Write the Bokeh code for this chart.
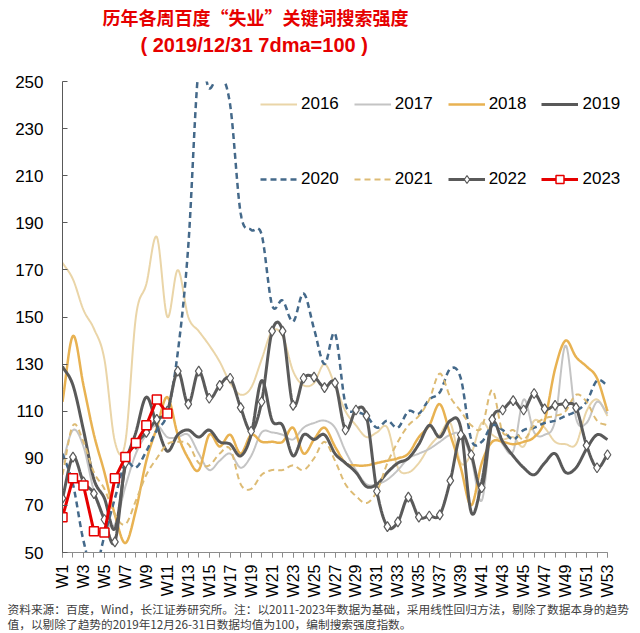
import numpy as np
from bokeh.plotting import figure
from bokeh.models import Range1d, FixedTicker, Legend, LegendItem, Title
from bokeh.embed import file_html
from bokeh.resources import INLINE

# ---------------- data ----------------
weeks = list(range(1, 54))
week_labels = ["W%d" % w for w in weeks]
y_ticks = [50, 70, 90, 110, 130, 150, 170, 190, 210, 230, 250]
years = ["2016", "2017", "2018", "2019", "2020", "2021", "2022", "2023"]

y2016 = [173, 166, 153, 145, 132, 97, 97, 150, 164, 184, 150, 170, 150, 144, 138, 131, 122, 117, 120, 132,
         144, 142, 127, 121, 122, 130, 121, 110, 104, 99, 101, 103, 86, 84, 88, 95, 100, 105, 88, 92,
         105, 100, 98, 99, 95, 106, 103, 97, 96, 96, 110, 115, 108]
y2017 = [88, 102, 95, 76, 64, 62, 78, 92, 100, 104, 99, 99, 100, 92, 85, 89, 92, 86, 91, 101,
         101, 100, 98, 103, 105, 106, 103, 93, 85, 79, 79, 81, 85, 90, 92, 94, 97, 100, 100, 90,
         72, 104, 96, 93, 115, 101, 100, 106, 138, 107, 105, 114, 109]
y2018 = [114, 142, 121, 100, 84, 66, 54, 68, 89, 103, 116, 100, 90, 85, 100, 95, 100, 92, 100, 97,
         97, 97, 103, 92, 98, 103, 95, 88, 87, 87, 88, 89, 90, 92, 99, 104, 113, 100, 86, 70,
         88, 97, 97, 96, 97, 99, 106, 128, 140, 133, 129, 124, 110]
y2019 = [129, 121, 102, 81, 73, 60, 87, 101, 116, 104, 93, 100, 102, 99, 102, 97, 96, 91, 100, 123,
         106, 104, 91, 100, 98, 100, 92, 88, 84, 78, 79, 84, 88, 90, 96, 104, 99, 106, 103, 67,
         80, 105, 97, 91, 86, 83, 88, 92, 84, 86, 94, 100, 98]
y2020 = [92, 79, 55, 42, 57, 73, 88, 86, 93, 102, 109, 135, 180, 256, 247, 253, 240, 194, 187, 185,
         155, 157, 148, 160, 145, 130, 143, 113, 110, 108, 103, 106, 103, 110, 109, 115, 118, 128, 124, 98,
         97, 104, 102, 98, 102, 103, 105, 106, 108, 110, 114, 123, 121]
y2021 = [83, 104, 97, 84, 77, 66, 62, 72, 83, 90, 96, 97, 96, 88, 87, 92, 94, 79, 77, 83,
         85, 85, 87, 85, 90, 97, 89, 79, 74, 71, 76, 88, 97, 104, 108, 115, 126, 116, 110, 104,
         103, 119, 101, 102, 98, 104, 107, 108, 110, 117, 114, 106, 104]
y2022 = [73, 90.5, 80, 75, 64, 54.5, 88, 96, 101, 106.5, 110, 127, 113, 127, 115.5, 121, 124, 111.5, 101.5, 114,
         144, 144, 112.5, 124, 124.5, 120, 122, 102, 110.5, 108, 76, 61, 63, 73.5, 65, 65.5, 66, 80.5, 100, 91.5,
         77.5, 106.5, 110.5, 114.5, 110.5, 117.5, 111, 112.5, 113, 111.5, 95.5, 86, 91.5]
y2023 = [65, 81.5, 78.5, 59, 58.5, 81.5, 90.5, 96.5, 104, 115, 109]

title_1 = "历年各周百度“失业”关键词搜索强度"
title_2 = "( 2019/12/31 7dma=100 )"
note_1 = "资料来源：百度，Wind，长江证券研究所。注：以2011-2023年数据为基础，采用线性回归方法，剔除了数据本身的趋势"
note_2 = "值，以剔除了趋势的2019年12月26-31日数据均值为100，编制搜索强度指数。"


def smooth(xs, ys, n=12):
    """Excel-like smoothed line (cubic Bezier through the data points)."""
    xs = np.asarray(xs, float)
    ys = np.asarray(ys, float)
    px = np.concatenate([[2 * xs[0] - xs[1]], xs, [2 * xs[-1] - xs[-2]]])
    py = np.concatenate([[2 * ys[0] - ys[1]], ys, [2 * ys[-1] - ys[-2]]])
    t = np.linspace(0, 1, n, endpoint=False)
    ox, oy = [], []
    for i in range(len(xs) - 1):
        for P, O in ((px, ox), (py, oy)):
            p0, p1, p2, p3 = P[i], P[i + 1], P[i + 2], P[i + 3]
            c1 = p1 + (p2 - p0) / 6.0
            c2 = p2 - (p3 - p1) / 6.0
            O.extend((1 - t) ** 3 * p1 + 3 * (1 - t) ** 2 * t * c1 + 3 * (1 - t) * t ** 2 * c2 + t ** 3 * p2)
    ox.append(xs[-1])
    oy.append(ys[-1])
    return ox, oy


# ---------------- figure ----------------
# frame: x 62..620 (W53 at 607; extra room on the right for the legend), y 81..552
x_end = 1 + 52 * 558 / 545.0
p = figure(width=640, height=633, output_backend="svg", toolbar_location=None,
           x_range=Range1d(1, x_end), y_range=Range1d(50, 250),
           min_border_left=62, min_border_right=20, min_border_top=81, min_border_bottom=81)
p.outline_line_color = None
p.xgrid.visible = False
p.ygrid.visible = False

xa = p.xaxis[0]
xa.bounds = (1, 53)
xa.ticker = FixedTicker(ticks=weeks[::2], minor_ticks=weeks)
xa.major_label_overrides = {w: lab for w, lab in zip(weeks, week_labels)}
xa.major_label_orientation = np.pi / 2
xa.major_tick_in = 0
xa.major_tick_out = 5
xa.minor_tick_in = 0
xa.minor_tick_out = 5
xa.axis_line_color = "#8c8c8c"
xa.major_tick_line_color = "#8c8c8c"
xa.minor_tick_line_color = "#8c8c8c"
xa.major_label_text_font = "Liberation Sans"
xa.major_label_text_font_size = "16px"
xa.major_label_text_color = "#000000"
xa.major_label_standoff = 7

ya = p.yaxis[0]
ya.ticker = FixedTicker(ticks=y_ticks)
ya.major_tick_in = 5
ya.major_tick_out = 0
ya.minor_tick_line_color = None
ya.axis_line_color = "#595959"
ya.major_tick_line_color = "#595959"
ya.major_label_text_font = "Liberation Sans"
ya.major_label_text_font_size = "17px"
ya.major_label_text_color = "#000000"
ya.major_label_standoff = 19

styles = {
    "2016": dict(color="#EAD5A8", line_width=2),
    "2017": dict(color="#C4C4C4", line_width=2),
    "2018": dict(color="#E8B252", line_width=2.5),
    "2019": dict(color="#595959", line_width=3),
    "2020": dict(color="#44698A", line_width=2.5, line_dash="6 4"),
    "2021": dict(color="#DDBB74", line_width=2, line_dash="6 4"),
    "2022": dict(color="#5A5A5A", line_width=3),
}
series = {"2016": y2016, "2017": y2017, "2018": y2018, "2019": y2019,
          "2020": y2020, "2021": y2021, "2022": y2022}

rends = {}
for yr in years[:7]:
    sx, sy = smooth(weeks, series[yr])
    rends[yr] = [p.line(sx, sy, **styles[yr])]

r22m = p.scatter(weeks, y2022, marker="diamond", size=10, fill_color="white",
                 line_color="#5A5A5A", line_width=1.2)
rends["2022"].append(r22m)

r23 = p.line(weeks[:len(y2023)], y2023, color="#E60000", line_width=3)
r23m = p.scatter(weeks[:len(y2023)], y2023, marker="square", size=9, fill_color="white",
                 line_color="#E60000", line_width=1.5)
rends["2023"] = [r23, r23m]

for i, locy in ((0, 438), (1, 363)):
    items = [LegendItem(label=yr, renderers=rends[yr]) for yr in years[i * 4:(i + 1) * 4]]
    leg = Legend(items=items, orientation="horizontal", location=(198, locy),
                 glyph_width=37, glyph_height=20, label_height=20, label_standoff=4,
                 spacing=15, padding=0, margin=0,
                 border_line_alpha=0, background_fill_alpha=0,
                 label_text_font="Liberation Sans", label_text_font_size="17px",
                 label_text_color="#000000")
    p.add_layout(leg)

# titles (nearest to the frame first)
p.add_layout(Title(text=title_2, align="left", offset=78, standoff=51,
                   text_font="Liberation Sans", text_font_style="bold",
                   text_font_size="20px", text_color="#E60000"), "above")
p.add_layout(Title(text=title_1, align="left", offset=40, standoff=-47,
                   text_font="Noto Sans CJK SC", text_font_style="bold",
                   text_font_size="18px", text_color="#E60000"), "above")

# footnotes below the x axis
p.add_layout(Title(text=note_1, align="left", offset=-55, standoff=-6,
                   text_font="Noto Sans CJK SC", text_font_style="normal",
                   text_font_size="11.7px", text_color="#404040"), "below")
p.add_layout(Title(text=note_2, align="left", offset=-55, standoff=-1,
                   text_font="Noto Sans CJK SC", text_font_style="normal",
                   text_font_size="11.7px", text_color="#404040"), "below")

open("out.html", "w").write(file_html(p, INLINE))
